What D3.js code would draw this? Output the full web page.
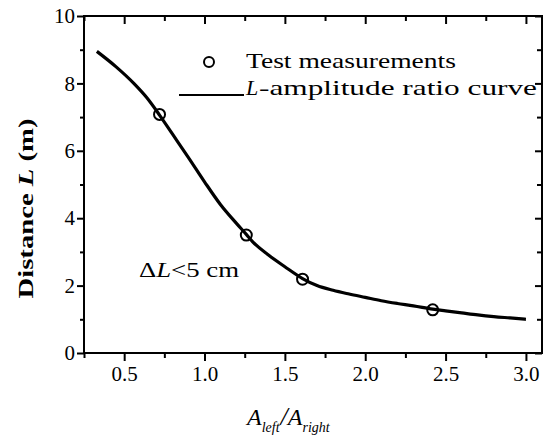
<!DOCTYPE html>
<html>
<head>
<meta charset="utf-8">
<script src="https://cdn.jsdelivr.net/npm/d3@7"></script>
<style>
  body { margin: 0; background: #fff; }
  svg { font-family: "Liberation Serif", "Times New Roman", serif; }
</style>
</head>
<body>
<div id="chart"></div>
<script>
// curve L vs amplitude ratio
const curveX = [0.33, 0.45, 0.56, 0.64, 0.72, 0.80, 0.90, 1.00, 1.10, 1.20, 1.26, 1.30, 1.40, 1.50, 1.61, 1.70, 1.80, 1.90, 2.00, 2.10, 2.20, 2.30, 2.42, 2.50, 2.60, 2.70, 2.80, 2.90, 3.00];
const curveY = [8.95, 8.49, 8.00, 7.58, 7.06, 6.50, 5.80, 5.08, 4.40, 3.84, 3.52, 3.30, 2.90, 2.56, 2.21, 2.00, 1.86, 1.75, 1.65, 1.55, 1.47, 1.40, 1.30, 1.25, 1.19, 1.13, 1.08, 1.04, 1.00];

// test measurements
const pointsX = [0.72, 1.26, 1.61, 2.42];
const pointsY = [7.08, 3.50, 2.19, 1.28];

const xMajor = [0.5, 1.0, 1.5, 2.0, 2.5, 3.0];
const xMinor = [0.25, 0.75, 1.25, 1.75, 2.25, 2.75];
const yMajor = [0, 2, 4, 6, 8, 10];
const yMinor = [1, 3, 5, 7, 9];

const W = 554, H = 441;
const margin = { top: 16, right: 12, bottom: 88, left: 84 };

const svg = d3.select("#chart").append("svg")
    .attr("width", W)
    .attr("height", H);

const x = d3.scaleLinear().domain([0.25, 3.1]).range([margin.left, W - margin.right]);
const y = d3.scaleLinear().domain([0, 10]).range([H - margin.bottom, margin.top]);

const x0 = margin.left, x1 = W - margin.right, y0 = H - margin.bottom, y1 = margin.top;

// frame
svg.append("rect")
    .attr("x", x0).attr("y", y1)
    .attr("width", x1 - x0).attr("height", y0 - y1)
    .attr("fill", "none").attr("stroke", "#000").attr("stroke-width", 2);

function styleAxis(g) {
    g.attr("font-family", null).attr("font-size", null);
    g.select(".domain").remove();
    g.selectAll(".tick line").attr("stroke", "#000").attr("stroke-width", 2);
    g.selectAll(".tick text").attr("fill", "#000")
        .style("font-family", "'Liberation Serif', serif")
        .style("font-size", "21px");
}

// bottom
svg.append("g").attr("transform", "translate(0," + y0 + ")")
    .call(d3.axisBottom(x).tickValues(xMajor).tickSize(8).tickPadding(5).tickFormat(d3.format(".1f")))
    .call(styleAxis);
svg.append("g").attr("transform", "translate(0," + y0 + ")")
    .call(d3.axisBottom(x).tickValues(xMinor).tickSize(5).tickFormat(""))
    .call(styleAxis);

// top (inward)
svg.append("g").attr("transform", "translate(0," + y1 + ")")
    .call(d3.axisTop(x).tickValues(xMajor).tickSize(-8).tickFormat(""))
    .call(styleAxis);
svg.append("g").attr("transform", "translate(0," + y1 + ")")
    .call(d3.axisTop(x).tickValues(xMinor).tickSize(-5).tickFormat(""))
    .call(styleAxis);

// left
svg.append("g").attr("transform", "translate(" + x0 + ",0)")
    .call(d3.axisLeft(y).tickValues(yMajor).tickSize(7).tickPadding(2))
    .call(styleAxis);
svg.append("g").attr("transform", "translate(" + x0 + ",0)")
    .call(d3.axisLeft(y).tickValues(yMinor).tickSize(4).tickFormat(""))
    .call(styleAxis);

// right (inward)
svg.append("g").attr("transform", "translate(" + x1 + ",0)")
    .call(d3.axisRight(y).tickValues(yMajor).tickSize(-7).tickFormat(""))
    .call(styleAxis);
svg.append("g").attr("transform", "translate(" + x1 + ",0)")
    .call(d3.axisRight(y).tickValues(yMinor).tickSize(-5).tickFormat(""))
    .call(styleAxis);

// curve
const line = d3.line()
    .x(d => x(d[0]))
    .y(d => y(d[1]))
    .curve(d3.curveMonotoneX);

svg.append("path")
    .datum(curveX.map((v, i) => [v, curveY[i]]))
    .attr("d", line)
    .attr("fill", "none")
    .attr("stroke", "#000")
    .attr("stroke-width", 3.2);

// measurement circles
svg.selectAll(".pt")
    .data(pointsX.map((v, i) => [v, pointsY[i]]))
    .join("circle")
    .attr("class", "pt")
    .attr("cx", d => x(d[0]))
    .attr("cy", d => y(d[1]))
    .attr("r", 5.5)
    .attr("fill", "none")
    .attr("stroke", "#000")
    .attr("stroke-width", 2);

// legend
svg.append("circle")
    .attr("cx", 209).attr("cy", 62).attr("r", 5)
    .attr("fill", "none").attr("stroke", "#000").attr("stroke-width", 2);
svg.append("text")
    .attr("x", 246).attr("y", 68)
    .attr("textLength", 210).attr("lengthAdjust", "spacingAndGlyphs")
    .style("font-size", "22px")
    .text("Test measurements");

svg.append("line")
    .attr("x1", 179).attr("x2", 244).attr("y1", 95).attr("y2", 95)
    .attr("stroke", "#000").attr("stroke-width", 2);
svg.append("text")
    .attr("x", 246).attr("y", 95)
    .style("font-size", "22px").style("font-style", "italic")
    .text("L");
svg.append("text")
    .attr("x", 259).attr("y", 95)
    .attr("textLength", 278).attr("lengthAdjust", "spacingAndGlyphs")
    .style("font-size", "22px")
    .text("-amplitude ratio curve");

// annotation
let note = svg.append("text")
    .attr("x", 139).attr("y", 277)
    .attr("textLength", 100).attr("lengthAdjust", "spacingAndGlyphs")
    .style("font-size", "22px");
note.append("tspan").text("\u0394");
note.append("tspan").style("font-style", "italic").text("L");
note.append("tspan").text("<5 cm");

// y label
let yl = svg.append("text")
    .attr("transform", "translate(33," + ((y0 + y1) / 2 + 24) + ") rotate(-90)")
    .attr("text-anchor", "middle")
    .attr("textLength", 180).attr("lengthAdjust", "spacingAndGlyphs")
    .style("font-size", "22px").style("font-weight", "bold");
yl.append("tspan").text("Distance ");
yl.append("tspan").style("font-style", "italic").text("L");
yl.append("tspan").text(" (m)");

// x label
let xl = svg.append("text")
    .attr("x", 247).attr("y", 425)
    .style("font-size", "24px").style("font-style", "italic");
xl.append("tspan").text("A");
xl.append("tspan").attr("dy", 7).style("font-size", "14px").text("left");
xl.append("tspan").attr("dy", -7).attr("dx", 1).style("font-size", "26px").text("/");
xl.append("tspan").text("A");
xl.append("tspan").attr("dy", 7).style("font-size", "14px").text("right");
</script>
</body>
</html>
